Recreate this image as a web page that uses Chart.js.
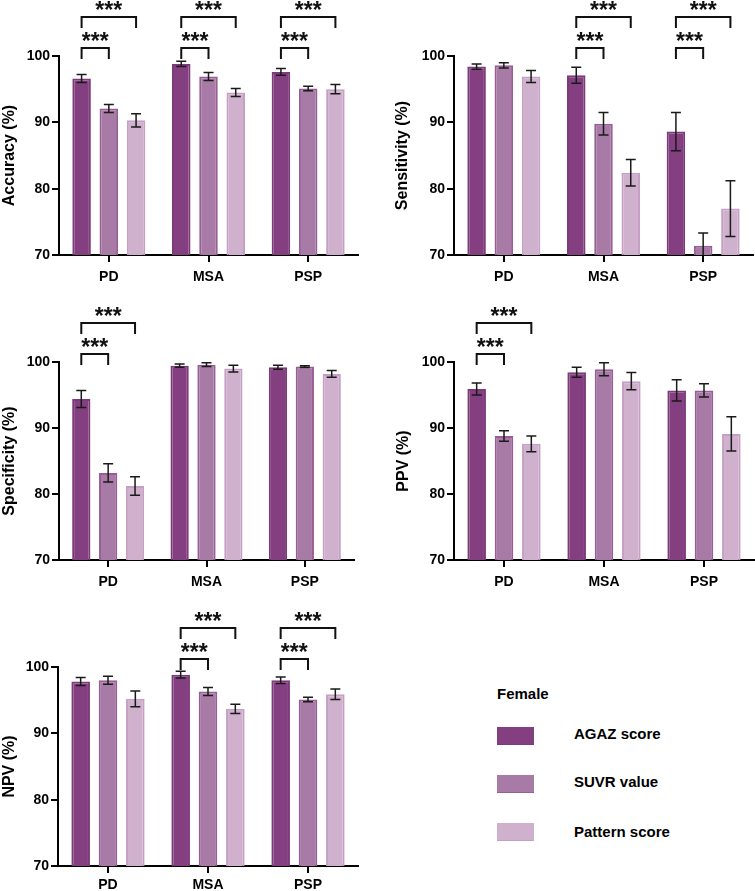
<!DOCTYPE html>
<html>
<head>
<meta charset="utf-8">
<script src="https://cdn.jsdelivr.net/npm/chart.js@4/dist/chart.umd.min.js"></script>
<style>
    html, body { margin: 0; padding: 0; background: #fff; }
    #wrap { position: relative; width: 755px; height: 891px; overflow: hidden; font-family: 'Liberation Sans', Arial, sans-serif; }
    .panel { position: absolute; }
    .legend-title { position: absolute; left: 497px; top: 685px; font-size: 15px; font-weight: bold; color: #000; }
    .swatch { position: absolute; left: 497px; width: 37px; height: 18px; box-sizing: border-box; }
    .legend-text { position: absolute; left: 574px; font-size: 15px; font-weight: bold; color: #000; line-height: 18px; }
</style>
</head>
<body>
<div id="wrap">
    <canvas class="panel" id="c-acc" width="375" height="290" style="left:0;top:0"></canvas>
    <canvas class="panel" id="c-sen" width="380" height="290" style="left:375px;top:0"></canvas>
    <canvas class="panel" id="c-spe" width="375" height="300" style="left:0;top:290px"></canvas>
    <canvas class="panel" id="c-ppv" width="380" height="300" style="left:375px;top:290px"></canvas>
    <canvas class="panel" id="c-npv" width="375" height="311" style="left:0;top:580px"></canvas>

    <div class="legend-title">Female</div>
    <div class="swatch" id="sw0" style="top:727px"></div>
    <div class="legend-text" id="lg0" style="top:725px"></div>
    <div class="swatch" id="sw1" style="top:775px"></div>
    <div class="legend-text" id="lg1" style="top:773px"></div>
    <div class="swatch" id="sw2" style="top:823px"></div>
    <div class="legend-text" id="lg2" style="top:823px"></div>
</div>

<script>
// 分组与方法
const groups = ['PD', 'MSA', 'PSP'];
const methods = ['AGAZ score', 'SUVR value', 'Pattern score'];
const yTicks = [70, 80, 90, 100];

// 每个指标: 行 = 方法 (AGAZ, SUVR, Pattern), 列 = PD, MSA, PSP
const accuracyMeans = [[96.6, 98.8, 97.6], [92.1, 96.9, 95.1], [90.3, 94.5, 95.0]];
const accuracyErrs  = [[0.6, 0.4, 0.5], [0.6, 0.6, 0.35], [1.0, 0.6, 0.7]];

const sensitivityMeans = [[98.4, 97.1, 88.6], [98.6, 89.8, 71.4], [96.9, 82.4, 77.0]];
const sensitivityErrs  = [[0.4, 1.2, 2.9], [0.4, 1.7, 1.9], [0.9, 2.0, 4.2]];

const specificityMeans = [[94.4, 99.45, 99.2], [83.2, 99.6, 99.3], [81.2, 99.0, 98.2]];
const specificityErrs  = [[1.3, 0.25, 0.3], [1.4, 0.3, 0.15], [1.4, 0.5, 0.5]];

const ppvMeans = [[95.9, 98.45, 95.7], [88.8, 98.9, 95.7], [87.6, 97.1, 89.1]];
const ppvErrs  = [[0.9, 0.75, 1.6], [0.8, 1.0, 1.0], [1.2, 1.3, 2.6]];

const npvMeans = [[97.8, 98.85, 98.0], [98.0, 96.3, 95.1], [95.2, 93.7, 95.9]];
const npvErrs  = [[0.6, 0.5, 0.5], [0.6, 0.6, 0.35], [1.2, 0.7, 0.8]];

// 显著性比较: [组, 方法A, 方法B]
const accuracySig = [[0, 0, 1], [0, 0, 2], [1, 0, 1], [1, 0, 2], [2, 0, 1], [2, 0, 2]];
const sensitivitySig = [[1, 0, 1], [1, 0, 2], [2, 0, 1], [2, 0, 2]];
const specificitySig = [[0, 0, 1], [0, 0, 2]];
const ppvSig = [[0, 0, 1], [0, 0, 2]];
const npvSig = [[1, 0, 1], [1, 0, 2], [2, 0, 1], [2, 0, 2]];

const fills = ['#843f81', '#a87ba6', '#cfb1cd'];
const borders = ['#7d3a7a', '#975d95', '#c6a0c4'];
const FONT = "'Liberation Sans', Arial, sans-serif";

// 误差线
const errorBars = {
    id: 'errorBars',
    afterDatasetsDraw(chart) {
        const ctx = chart.ctx;
        const y = chart.scales.y;
        ctx.save();
        ctx.strokeStyle = '#1a1a1a';
        ctx.lineWidth = 1.5;
        chart.data.datasets.forEach((ds, i) => {
            chart.getDatasetMeta(i).data.forEach((bar, j) => {
                const v = ds.data[j], e = ds.errors[j];
                const top = y.getPixelForValue(v + e);
                const lowV = Math.max(v - e, y.min);
                const bot = y.getPixelForValue(lowV);
                ctx.beginPath();
                ctx.moveTo(bar.x, top);
                ctx.lineTo(bar.x, bot);
                ctx.moveTo(bar.x - 5, top);
                ctx.lineTo(bar.x + 5, top);
                if (v - e > y.min) {
                    ctx.moveTo(bar.x - 5, bot);
                    ctx.lineTo(bar.x + 5, bot);
                }
                ctx.stroke();
            });
        });
        ctx.restore();
    }
};

function drawStars(ctx, cx, cy) {
    ctx.font = 'bold 23px ' + FONT;
    ctx.textAlign = 'center';
    ctx.textBaseline = 'alphabetic';
    const m = ctx.measureText('*');
    const base = cy + (m.actualBoundingBoxAscent - m.actualBoundingBoxDescent) / 2;
    [-9, 0, 9].forEach(dx => ctx.fillText('*', cx + dx, base));
}

// 显著性括号
function sigPlugin(sig) {
    return {
        id: 'sigBrackets',
        afterDraw(chart) {
            const ctx = chart.ctx;
            const y100 = chart.scales.y.getPixelForValue(100);
            ctx.save();
            ctx.strokeStyle = '#111';
            ctx.fillStyle = '#111';
            ctx.lineWidth = 2;
            sig.forEach(([g, a, b]) => {
                const xa = chart.getDatasetMeta(a).data[g].x;
                const xb = chart.getDatasetMeta(b).data[g].x;
                const upper = b - a > 1;
                const lineY = upper ? y100 - 39 : y100 - 8;
                const legY = upper ? y100 - 28 : y100 + 3;
                ctx.beginPath();
                ctx.moveTo(xa, legY);
                ctx.lineTo(xa, lineY);
                ctx.lineTo(xb, lineY);
                ctx.lineTo(xb, legY);
                ctx.stroke();
                drawStars(ctx, (xa + xb) / 2, lineY - 12);
            });
            ctx.restore();
        }
    };
}

function makePanel(id, title, means, errs, sig, geo) {
    const ctx = document.getElementById(id).getContext('2d');
    return new Chart(ctx, {
        type: 'bar',
        data: {
            labels: groups,
            datasets: methods.map((m, i) => ({
                label: m,
                data: means[i],
                errors: errs[i],
                backgroundColor: fills[i],
                borderColor: borders[i],
                borderWidth: 2,
                categoryPercentage: 0.82,
                barPercentage: 0.68
            }))
        },
        options: {
            responsive: false,
            animation: false,
            layout: { padding: { left: geo.padL, right: geo.padR, top: geo.padT, bottom: 0 } },
            plugins: { legend: { display: false }, tooltip: { enabled: false } },
            scales: {
                x: {
                    afterFit: s => { s.height = geo.xh; },
                    grid: { offset: false, drawOnChartArea: false, drawTicks: true, tickLength: 7, color: '#000', lineWidth: 2 },
                    border: { display: true, color: '#000', width: 2 },
                    ticks: { color: '#000', padding: geo.lp, font: { family: FONT, size: 14, weight: 'bold' } }
                },
                y: {
                    min: yTicks[0],
                    max: yTicks[yTicks.length - 1],
                    afterFit: s => { s.width = geo.yw; },
                    afterBuildTicks: s => { s.ticks = yTicks.map(v => ({ value: v })); },
                    grid: { drawOnChartArea: false, drawTicks: true, tickLength: 7, color: '#000', lineWidth: 2 },
                    border: { display: true, color: '#000', width: 2 },
                    ticks: { color: '#000', padding: 2, font: { family: FONT, size: 14, weight: 'bold' } },
                    title: { display: true, text: title, color: '#000', padding: 0, font: { family: FONT, size: 16, weight: 'bold' } }
                }
            }
        },
        plugins: [errorBars, sigPlugin(sig)]
    });
}

makePanel('c-acc', 'Accuracy (%)', accuracyMeans, accuracyErrs, accuracySig,
    { padL: 0, yw: 59, padR: 17, padT: 56, xh: 35, lp: 7 });
makePanel('c-sen', 'Sensitivity (%)', sensitivityMeans, sensitivityErrs, sensitivitySig,
    { padL: 18, yw: 61, padR: 2, padT: 56, xh: 35, lp: 7 });
makePanel('c-spe', 'Specificity (%)', specificityMeans, specificityErrs, specificitySig,
    { padL: 0, yw: 59, padR: 21, padT: 72, xh: 30, lp: 7 });
makePanel('c-ppv', 'PPV (%)', ppvMeans, ppvErrs, ppvSig,
    { padL: 19, yw: 60, padR: 1, padT: 72, xh: 30, lp: 7 });
makePanel('c-npv', 'NPV (%)', npvMeans, npvErrs, npvSig,
    { padL: 0, yw: 58, padR: 17, padT: 87, xh: 25, lp: 4 });

// 图例
methods.forEach((m, i) => {
    const sw = document.getElementById('sw' + i);
    sw.style.background = fills[i];
    sw.style.borderBottom = '1px solid ' + borders[i];
    document.getElementById('lg' + i).textContent = m;
});
</script>
</body>
</html>
